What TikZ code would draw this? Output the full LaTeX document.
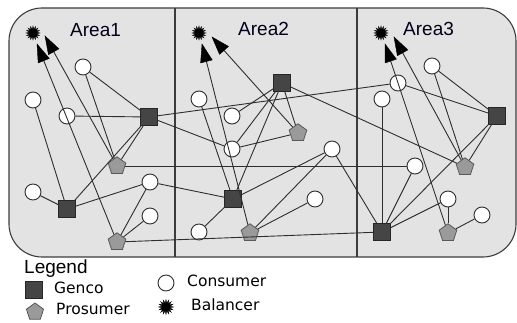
\documentclass[tikz,border=0pt]{standalone}
\usepackage{fontspec}
\setmainfont{Liberation Sans}
\newfontfamily\itemfont{DejaVu Sans}
\usetikzlibrary{shapes.geometric,calc}
\definecolor{panel}{HTML}{E3E3E3}
\definecolor{frame}{HTML}{3C3C3C}
\definecolor{wire}{HTML}{2E2E2E}
\definecolor{gencofill}{HTML}{454545}
\definecolor{prosfill}{HTML}{9A9A9A}
\tikzset{
  consumer/.style={circle, draw=wire, fill=white, line width=0.9pt, minimum size=16pt, inner sep=0pt},
  genco/.style={rectangle, draw=black!85, fill=gencofill, line width=0.8pt, minimum size=16.5pt, inner sep=0pt},
  prosumer/.style={regular polygon, regular polygon sides=5, draw=black!65, fill=prosfill, line width=0.8pt, minimum size=18.5pt, inner sep=0pt},
  balancer/.style={star, star points=16, star point ratio=1.8, fill=black, draw=black, line width=0.3pt, minimum size=14pt, inner sep=0pt},
  wireline/.style={draw=wire, line width=0.9pt},
  headfill/.style={fill=black, draw=black, line width=0.4pt, line join=miter},
  arealabel/.style={anchor=base west, inner sep=0pt, font=\fontsize{19}{22}\selectfont, text=black!90!blue},
  legendlabel/.style={anchor=base west, inner sep=0pt, font=\itemfont\fontsize{15.5}{18}\selectfont}
}
% feed line from a prosumer (#1) to a tip point (#2) next to a balancer,
% finished by a long filled triangular head
\newcommand{\feedline}[2]{%
  \draw[wireline] (#1) -- ($(#2)!12pt!(#1)$);
  \path ($(#2)!18pt!(#1)$) coordinate (hb);
  \filldraw[headfill] (#2) -- ($(hb)!6pt!90:(#2)$) -- ($(hb)!6pt!-90:(#2)$) -- cycle;}
\begin{document}
\begin{tikzpicture}[x=1pt,y=-1pt]
\useasboundingbox (0,0) rectangle (517,323);

% panel holding the three areas
\draw[fill=panel, draw=frame, line width=1.1pt, rounded corners=33pt] (9,8) rectangle (516,257);
\draw[frame, line width=1.1pt] (175,8) -- (175,257);
\draw[frame, line width=1.1pt] (357,8) -- (357,257);

\node[arealabel] (lab1) at (70,37) {Area1};
\node[arealabel] (lab2) at (238,36) {Area2};
\node[arealabel] (lab3) at (403,36) {Area3};

% ---- Area 1
\node[balancer] (B1) at (33,33) {};
\node[consumer] (c1) at (83,67) {};
\node[consumer] (c2) at (33,100) {};
\node[consumer] (c3) at (67,116) {};
\node[genco]    (g1) at (149,117) {};
\node[prosumer] (p1) at (117,166) {};
\node[consumer] (c4) at (150,182) {};
\node[consumer] (c5) at (33,192) {};
\node[genco]    (g2) at (67,209) {};
\node[consumer] (c6) at (150,216) {};
\node[prosumer] (p2) at (117,242) {};
\coordinate (t1a) at (37,44);
\coordinate (t1b) at (45,36);

% ---- Area 2
\node[balancer] (B2) at (199,33) {};
\node[genco]    (gA) at (282,83) {};
\node[consumer] (c7) at (199,99) {};
\node[consumer] (c8) at (232,116) {};
\node[prosumer] (p3) at (298,133) {};
\node[consumer] (c9) at (232,149) {};
\node[consumer] (c10) at (332,149) {};
\node[genco]    (gB) at (233,199) {};
\node[consumer] (c11) at (315,199) {};
\node[consumer] (c12) at (199,232) {};
\node[prosumer] (p4) at (250,233) {};
\coordinate (t2a) at (202,44);
\coordinate (t2b) at (212,37);

% ---- Area 3
\node[balancer] (B3) at (381,33) {};
\node[consumer] (c13) at (432,66) {};
\node[consumer] (c14) at (398,83) {};
\node[consumer] (c15) at (382,99) {};
\node[genco]    (gC) at (497,116) {};
\node[consumer] (c16) at (415,166) {};
\node[prosumer] (p5) at (465,167) {};
\node[consumer] (c17) at (448,199) {};
\node[consumer] (c18) at (482,215) {};
\node[genco]    (gD) at (382,232) {};
\node[prosumer] (p6) at (448,233) {};
\coordinate (t3a) at (385,44);
\coordinate (t3b) at (394,37);

% ---- links inside Area 1
\draw[wireline] (c1) -- (g1);
\draw[wireline] (c1) -- (p1);
\draw[wireline] (c3) -- (g1);
\draw[wireline] (g1) -- (p1);
\draw[wireline] (g1) -- (g2);
\draw[wireline] (c2) -- (g2);
\draw[wireline] (c5) -- (g2);
\draw[wireline] (g2) -- (c4);
\draw[wireline] (c4) -- (p2);
\draw[wireline] (c6) -- (p2);
\feedline{p2}{t1a}
\feedline{p1}{t1b}

% ---- links inside Area 2
\draw[wireline] (c7) -- (gB);
\draw[wireline] (c8) -- (gA);
\draw[wireline] (c9) -- (gA);
\draw[wireline] (c9) -- (p3);
\draw[wireline] (gA) -- (gB);
\draw[wireline] (gA) -- (p3);
\draw[wireline] (gB) -- (c10);
\draw[wireline] (gB) -- (c12);
\draw[wireline] (p4) -- (c10);
\draw[wireline] (p4) -- (c11);
\feedline{p4}{t2a}
\feedline{p3}{t2b}

% ---- links inside Area 3
\draw[wireline] (c13) -- (gC);
\draw[wireline] (c13) -- (p5);
\draw[wireline] (c14) -- (gC);
\draw[wireline] (c15) -- (gD);
\draw[wireline] (gC) -- (gD);
\draw[wireline] (gC) -- (p5);
\draw[wireline] (c16) -- (gD);
\draw[wireline] (gD) -- (c17);
\draw[wireline] (p6) -- (c17);
\draw[wireline] (p6) -- (c18);
\feedline{p6}{t3a}
\feedline{p5}{t3b}

% ---- links between areas
\draw[wireline] (g1) -- (c14);
\draw[wireline] (g1) -- (c9);
\draw[wireline] (p1) -- (c16);
\draw[wireline] (c4) -- (gB);
\draw[wireline] (p2) -- (gD);
\draw[wireline] (gA) -- (p5);
\draw[wireline] (c10) -- (gD);

% ---- legend
\node[anchor=base west, inner sep=0pt, font=\fontsize{19}{22}\selectfont] (leg) at (24,274) {Legend};
\node[genco, minimum size=17pt] (lg) at (34,290) {};
\node[legendlabel] (lgt) at (54,294) {Genco};
\node[prosumer, minimum size=18pt] (lp) at (35,312) {};
\node[legendlabel] (lpt) at (56,315) {Prosumer};
\node[consumer] (lc) at (166,283) {};
\node[legendlabel] (lct) at (187,287) {Consumer};
\node[balancer, minimum size=15pt] (lb) at (166,307) {};
\node[legendlabel] (lbt) at (191,311) {Balancer};
\end{tikzpicture}
\end{document}
